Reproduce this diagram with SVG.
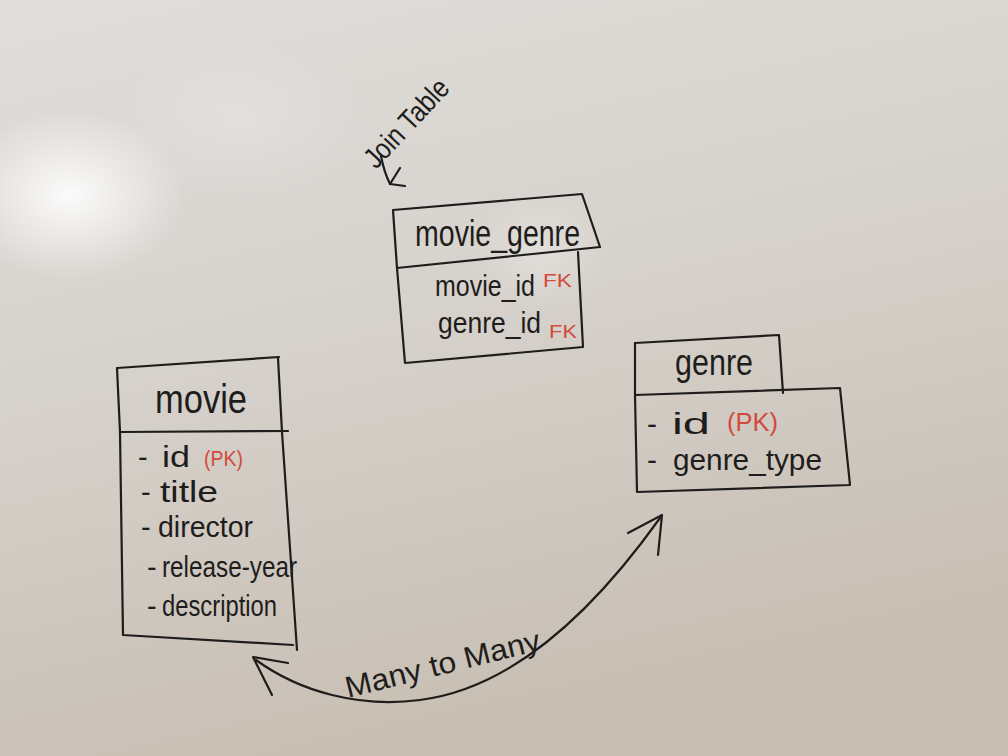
<svg xmlns="http://www.w3.org/2000/svg" width="1008" height="756" viewBox="0 0 1008 756">
<defs>
<linearGradient id="bg" x1="0" y1="0" x2="0.3" y2="1">
<stop offset="0" stop-color="#e0dedb"/>
<stop offset="0.5" stop-color="#d6d1cb"/>
<stop offset="1" stop-color="#c8bfb4"/>
</linearGradient>
<radialGradient id="glare" cx="0.5" cy="0.5" r="0.5">
<stop offset="0" stop-color="#ffffff" stop-opacity="0.9"/>
<stop offset="0.5" stop-color="#ffffff" stop-opacity="0.45"/>
<stop offset="1" stop-color="#ffffff" stop-opacity="0"/>
</radialGradient>
<style>
.ln{fill:none;stroke:#1e1d1c;stroke-width:2.2;stroke-linecap:round;stroke-linejoin:round}
.t{font-family:"Liberation Sans","Open Sans",sans-serif;fill:#1e1d1c}
.r{font-family:"Liberation Sans","Open Sans",sans-serif;fill:#d24a3c}
</style>
</defs>
<rect width="1008" height="756" fill="url(#bg)"/>
<ellipse cx="70" cy="195" rx="115" ry="85" fill="url(#glare)"/>
<ellipse cx="240" cy="120" rx="130" ry="80" fill="url(#glare)" opacity="0.2"/>
<ellipse cx="540" cy="250" rx="70" ry="60" fill="url(#glare)" opacity="0.3"/>

<g id="movie_genre">
<path class="ln" d="M393,210 L582,194 L600,247 L397,268 Z"/>
<path class="ln" d="M397,268 L405,363 L583,347 L578,252"/>
<text class="t" x="415" y="246" font-size="36" textLength="165" lengthAdjust="spacingAndGlyphs">movie_genre</text>
<text class="t" transform="translate(435 296) scale(1 1.2)" x="0" y="0" font-size="25" textLength="100" lengthAdjust="spacingAndGlyphs">movie_id</text>
<text class="r" x="543" y="287" font-size="19" textLength="29" lengthAdjust="spacingAndGlyphs">FK</text>
<text class="t" transform="translate(438 333) scale(1 1.15)" x="0" y="0" font-size="26" textLength="103" lengthAdjust="spacingAndGlyphs">genre_id</text>
<text class="r" x="549" y="338" font-size="19" textLength="28" lengthAdjust="spacingAndGlyphs">FK</text>
</g>

<g id="join_table_note">
<text class="t" transform="rotate(-47 376 170)" x="376" y="170" font-size="29" textLength="110" lengthAdjust="spacingAndGlyphs">Join Table</text>
</g>

<g id="movie">
<path class="ln" d="M117,368 L279,357"/>
<path class="ln" d="M117,368 L120,432 L123,635 L293,645"/>
<path class="ln" d="M278,358 L282,432 L297,650"/>
<path class="ln" d="M120,432 L288,431"/>
<text class="t" x="155" y="413" font-size="40" textLength="92" lengthAdjust="spacingAndGlyphs">movie</text>
<text class="t" x="138" y="467" font-size="29">-</text>
<text class="t" x="162" y="467" font-size="29" textLength="28" lengthAdjust="spacingAndGlyphs">id</text>
<text class="r" x="204" y="466" font-size="22" textLength="39" lengthAdjust="spacingAndGlyphs">(PK)</text>
<text class="t" x="141" y="502" font-size="29">-</text>
<text class="t" x="160" y="502" font-size="29" textLength="58" lengthAdjust="spacingAndGlyphs">title</text>
<text class="t" x="141" y="537" font-size="29">-</text>
<text class="t" x="158" y="537" font-size="29" textLength="95" lengthAdjust="spacingAndGlyphs">director</text>
<text class="t" x="147" y="577" font-size="29">-</text>
<text class="t" x="162" y="577" font-size="29" textLength="135" lengthAdjust="spacingAndGlyphs">release-year</text>
<text class="t" x="147" y="616" font-size="29">-</text>
<text class="t" x="162" y="616" font-size="29" textLength="115" lengthAdjust="spacingAndGlyphs">description</text>
</g>

<g id="genre">
<path class="ln" d="M635,343 L779,335 L783,393"/>
<path class="ln" d="M635,343 L635,395 L637,492 L850,485 L840,388 L635,395"/>
<text class="t" x="675" y="375" font-size="36" textLength="78" lengthAdjust="spacingAndGlyphs">genre</text>
<text class="t" x="647" y="434" font-size="30">-</text>
<text class="t" x="672" y="434" font-size="30" textLength="38" lengthAdjust="spacingAndGlyphs">id</text>
<text class="r" x="727" y="431" font-size="25" textLength="51" lengthAdjust="spacingAndGlyphs">(PK)</text>
<text class="t" x="647" y="470" font-size="30">-</text>
<text class="t" x="673" y="470" font-size="30" textLength="149" lengthAdjust="spacingAndGlyphs">genre_type</text>
</g>

<g id="connectors">
<path class="ln" d="M381,156 Q384,172 390,184"/>
<path class="ln" d="M400,168 L390,184 L405,186"/>
<path class="ln" stroke-width="1.8" d="M256,660 C300,692 360,708 420,700 C500,690 580,630 660,518"/>
<path class="ln" d="M288,663 L253,657 L272,695"/>
<path class="ln" d="M628,533 L662,515 L658,555"/>
<text class="t" transform="rotate(-14 348 698)" x="348" y="698" font-size="30" textLength="200" lengthAdjust="spacingAndGlyphs">Many to Many</text>
</g>
</svg>
